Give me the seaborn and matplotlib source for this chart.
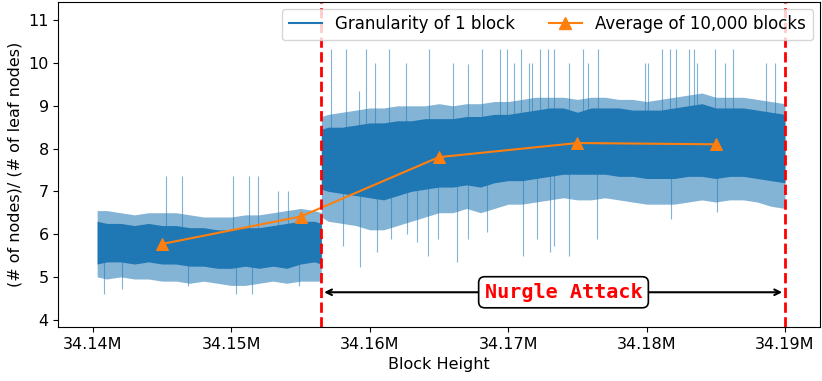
'''
    Ratio de nodos / nodos hoja durante el ataque Nurgle
'''

import numpy as np
import matplotlib
matplotlib.use('Agg')
import matplotlib.pyplot as plt
from matplotlib.lines import Line2D
from matplotlib.ticker import FuncFormatter
import seaborn as sns

# Banda de 1 bloque, antes del ataque
pre_x = [34140300, 34141000, 34142000, 34143000, 34144000, 34145000, 34146000, 34147000, 34148000,
         34149000, 34150000, 34151000, 34152000, 34153000, 34154000, 34155000, 34156000, 34156500]
pre_core_lo = [5.30, 5.35, 5.35, 5.30, 5.35, 5.30, 5.30, 5.25, 5.25, 5.20, 5.20, 5.25, 5.20, 5.25, 5.20, 5.30, 5.35, 5.30]
pre_core_hi = [6.30, 6.25, 6.25, 6.20, 6.25, 6.20, 6.20, 6.15, 6.15, 6.10, 6.10, 6.15, 6.15, 6.20, 6.25, 6.30, 6.30, 6.25]
pre_fr_lo = [5.00, 4.95, 5.00, 4.95, 4.95, 4.90, 4.90, 4.85, 4.90, 4.85, 4.80, 4.80, 4.85, 4.90, 4.85, 4.90, 4.90, 4.90]
pre_fr_hi = [6.55, 6.55, 6.50, 6.45, 6.50, 6.50, 6.50, 6.45, 6.40, 6.40, 6.40, 6.45, 6.45, 6.50, 6.55, 6.60, 6.55, 6.50]

# Banda de 1 bloque, durante el ataque
post_x = [34156500] + list(range(34157000, 34190001, 1000))
post_core_lo = [7.05, 7.00, 6.95, 6.90, 6.85, 6.80, 6.90, 7.00, 7.05, 7.10, 7.10, 7.15, 7.10, 7.20, 7.25, 7.25, 7.30,
                7.35, 7.40, 7.40, 7.40, 7.40, 7.35, 7.35, 7.30, 7.30, 7.30, 7.35, 7.35, 7.30, 7.35, 7.35, 7.30, 7.25, 7.20]
post_core_hi = [8.45, 8.50, 8.50, 8.55, 8.60, 8.60, 8.65, 8.65, 8.70, 8.70, 8.70, 8.75, 8.75, 8.80, 8.80, 8.85, 8.90,
                8.95, 8.95, 8.85, 8.95, 8.95, 8.95, 8.90, 8.90, 8.90, 8.95, 9.00, 9.05, 8.95, 8.95, 8.95, 8.90, 8.85, 8.80]
post_fr_lo = [6.40, 6.30, 6.25, 6.20, 6.10, 6.10, 6.20, 6.30, 6.40, 6.50, 6.50, 6.60, 6.50, 6.60, 6.70, 6.70, 6.75,
              6.80, 6.85, 6.80, 6.80, 6.85, 6.80, 6.75, 6.70, 6.70, 6.70, 6.75, 6.80, 6.75, 6.80, 6.80, 6.75, 6.65, 6.60]
post_fr_hi = [8.75, 8.80, 8.85, 8.90, 8.95, 8.95, 9.00, 9.00, 9.00, 9.05, 9.00, 9.05, 9.05, 9.10, 9.10, 9.15, 9.20,
              9.20, 9.20, 9.15, 9.20, 9.20, 9.15, 9.15, 9.10, 9.15, 9.20, 9.25, 9.30, 9.20, 9.20, 9.20, 9.15, 9.10, 9.05]

# Picos sueltos (bloque, valor)
pre_spike_x = [34145300, 34146400, 34150100, 34151300, 34151900, 34153400, 34154100,
               34140800, 34142100, 34146900, 34150300, 34151500, 34154900]
pre_spike_y = [7.35, 7.35, 7.35, 7.35, 7.35, 7.00, 7.00,
               4.59, 4.71, 4.78, 4.59, 4.59, 4.78]
post_spike_x = [34157200, 34158250, 34159200, 34159700, 34160400, 34161400, 34162600, 34164300, 34166000,
                34167100, 34168100, 34169400, 34169900, 34170400, 34170900, 34171500, 34171700, 34172300,
                34172900, 34173300, 34174400, 34175400, 34175800, 34176500, 34179900, 34180100, 34181100,
                34181700, 34182100, 34183100, 34183400, 34183650, 34184950, 34185700, 34186250, 34188600, 34189300,
                34158100, 34159300, 34160500, 34161500, 34162700, 34163400, 34164200, 34164900, 34166300,
                34167100, 34168500, 34171100, 34172100, 34173000, 34173300, 34174400, 34176400, 34181800, 34185100]
post_spike_y = [10.32, 10.32, 9.35, 10.32, 10.00, 10.32, 10.00, 10.32, 10.00,
                9.97, 10.32, 10.32, 10.32, 10.00, 10.32, 10.00, 10.00, 10.32,
                10.32, 10.32, 10.00, 10.32, 10.00, 10.32, 10.00, 10.00, 10.32,
                10.32, 10.32, 10.32, 10.32, 10.00, 10.32, 10.00, 10.32, 10.00, 10.00,
                5.72, 5.23, 5.58, 5.89, 6.00, 5.82, 5.49, 5.89, 5.34,
                5.89, 6.05, 5.49, 5.89, 5.58, 5.72, 5.49, 5.89, 6.36, 6.52]

# Promedio de 10.000 bloques
avg_x = [34145000, 34155000, 34165000, 34175000, 34185000]
avg_y = [5.77, 6.41, 7.80, 8.13, 8.10]

attack_start, attack_end = 34156500, 34190000
blue, orange = '#1f77b4', '#ff7f0e'

fig, ax = plt.subplots(figsize=(8.22, 3.81), dpi=100)
fig.subplots_adjust(left=0.071, right=0.997, bottom=0.142, top=0.995)

# Banda densa de 1 bloque
for xs, clo, chi, flo, fhi in [(pre_x, pre_core_lo, pre_core_hi, pre_fr_lo, pre_fr_hi),
                                (post_x, post_core_lo, post_core_hi, post_fr_lo, post_fr_hi)]:
    ax.fill_between(xs, flo, fhi, color=blue, alpha=0.55, lw=0)
    ax.fill_between(xs, clo, chi, color=blue, alpha=1.0, lw=0)

ax.vlines(pre_spike_x, 5.8, pre_spike_y, color=blue, alpha=0.55, lw=0.8)
ax.vlines(post_spike_x, 8.0, post_spike_y, color=blue, alpha=0.55, lw=0.8)

sns.lineplot(x=avg_x, y=avg_y, marker='^', markersize=9, color=orange,
             markeredgecolor=orange, lw=1.5, ax=ax)

ax.axvline(attack_start, color='red', ls='--', lw=2)
ax.axvline(attack_end, color='red', ls='--', lw=2)

ax.annotate('', xy=(attack_start, 4.64), xytext=(attack_end, 4.64),
            arrowprops=dict(arrowstyle='<->', color='black', lw=1.5))
ax.text(34174000, 4.64, 'Nurgle Attack', color='red', fontsize=14.5, fontweight='bold',
        family='monospace', ha='center', va='center',
        bbox=dict(boxstyle='round,pad=0.3', fc='white', ec='black', lw=1.2))

ax.set_xlim(34137500, 34192500)
ax.set_ylim(3.83, 11.43)
ax.set_yticks(range(4, 12))
ax.xaxis.set_major_formatter(FuncFormatter(lambda v, p: f'{v / 1e6:.2f}M'))
ax.tick_params(labelsize=11.5)
ax.set_xlabel('Block Height', fontsize=11.5)
ax.set_ylabel('(# of nodes)/ (# of leaf nodes)', fontsize=11.5)

handles = [Line2D([], [], color=blue, lw=1.5),
           Line2D([], [], color=orange, lw=1.5, marker='^', markersize=9)]
ax.legend(handles, ['Granularity of 1 block', 'Average of 10,000 blocks'],
          loc='upper right', ncol=2, fontsize=12, borderaxespad=0.4)

fig.savefig('out.png', dpi=100)
